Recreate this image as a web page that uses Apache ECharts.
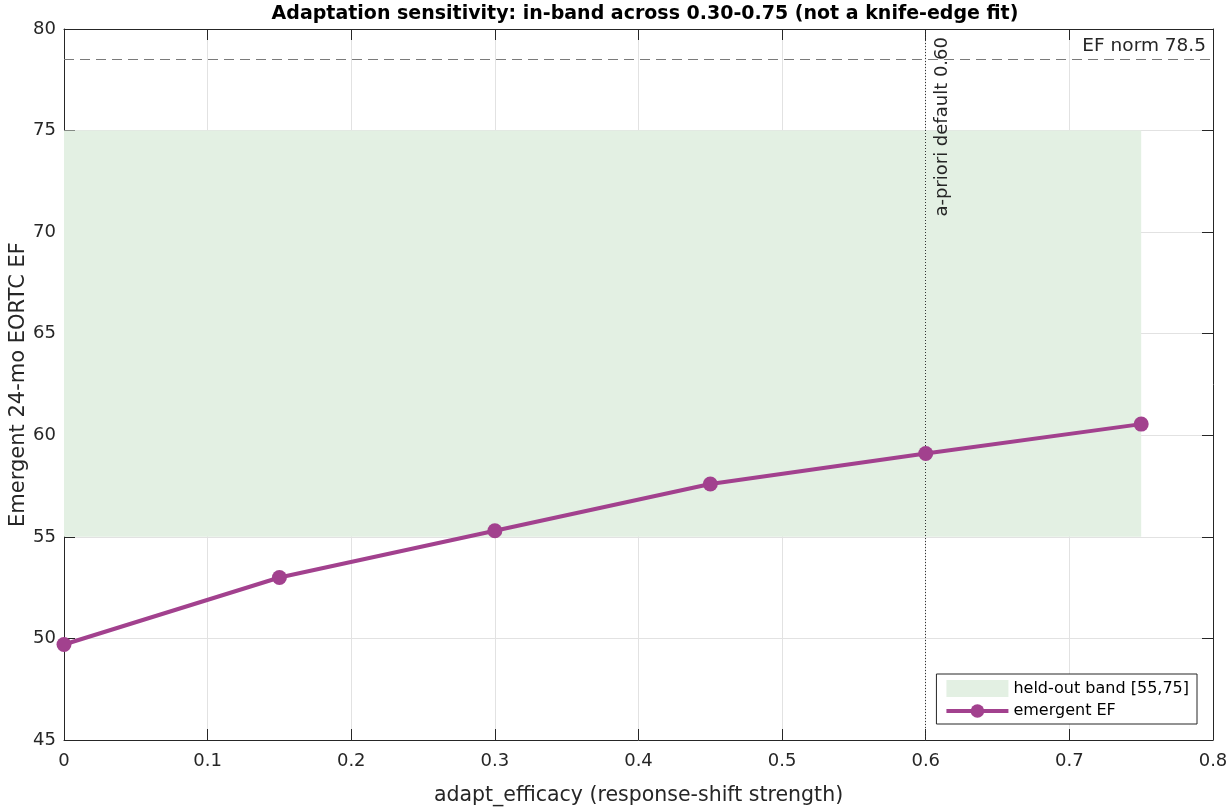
<!DOCTYPE html>
<html>
<head>
<meta charset="utf-8">
<script src="https://cdn.jsdelivr.net/npm/echarts@6/dist/echarts.min.js"></script>
<style>
  html, body { margin: 0; padding: 0; background: #fff; }
  #main { width: 1230px; height: 808px; }
</style>
</head>
<body>
<div id="main"></div>
<script>
// values
const adaptEfficacy = [0, 0.15, 0.3, 0.45, 0.6, 0.75];
const emergentEF = [49.7, 53.0, 55.3, 57.6, 59.1, 60.55];
const bandLow = 55;
const bandHigh = 75;
const bandEnd = 0.75;
const efNorm = 78.5;
const aprioriDefault = 0.6;

const font = '"DejaVu Sans", "Liberation Sans", Arial, sans-serif';
const ink = '#262626';
const purple = '#A2418E';
const bandColor = '#E3F0E3';

const chart = echarts.init(document.getElementById('main'));

const axisCommon = {
    axisLine: { show: true, onZero: false, lineStyle: { color: ink, width: 1 } },
    axisTick: { show: true, inside: true, length: 11, lineStyle: { color: ink } },
    splitLine: { show: false },
};
const gridLines = { splitLine: { show: true, lineStyle: { color: '#E2E2E2' } } };

chart.setOption({
    animation: false,
    backgroundColor: '#fff',
    textStyle: { fontFamily: font },
    title: {
        text: 'Adaptation sensitivity: in-band across 0.30-0.75 (not a knife-edge fit)',
        left: 640, top: 0, textAlign: 'center',
        textStyle: { fontSize: 19, fontWeight: 'bold', color: '#000', fontFamily: font },
    },
    grid: { left: 64, right: 17, top: 29, bottom: 68, outerBoundsMode: 'none' },
    legend: {
        right: 33, bottom: 84, orient: 'vertical',
        itemWidth: 62, itemHeight: 17, itemGap: 6,
        padding: [6, 8, 5, 8],
        borderColor: ink, borderWidth: 1, borderRadius: 0,
        backgroundColor: '#fff',
        textStyle: { fontSize: 16, color: '#000', fontFamily: font },
        data: [
            { name: 'held-out band [55,75]', icon: 'rect', itemStyle: { color: bandColor } },
            { name: 'emergent EF', lineStyle: { width: 4 } },
        ],
    },
    xAxis: [
        Object.assign({
            type: 'value', min: 0, max: 0.8, interval: 0.1,
            name: 'adapt_efficacy (response-shift strength)',
            nameLocation: 'middle', nameGap: 45, nameMoveOverlap: false,
            nameTextStyle: { fontSize: 20.5, color: ink, fontFamily: font },
            axisLabel: { fontSize: 18, color: ink, margin: 12, fontFamily: font,
                formatter: v => (v === 0 ? '0' : String(Math.round(v * 10) / 10)) },
        }, axisCommon, gridLines),
        Object.assign({
            type: 'value', min: 0, max: 0.8, interval: 0.1, position: 'top',
            axisLabel: { show: false },
        }, axisCommon),
    ],
    yAxis: [
        Object.assign({
            type: 'value', min: 45, max: 80, interval: 5,
            name: 'Emergent 24-mo EORTC EF',
            nameLocation: 'middle', nameGap: 35, nameMoveOverlap: false,
            nameTextStyle: { fontSize: 21, color: ink, fontFamily: font },
            axisLabel: { fontSize: 18, color: ink, margin: 8, fontFamily: font },
        }, axisCommon, gridLines),
        Object.assign({
            type: 'value', min: 45, max: 80, interval: 5, position: 'right',
            axisLabel: { show: false },
        }, axisCommon),
    ],
    series: [
        {
            name: 'held-out band [55,75]',
            type: 'line',
            data: [],
            itemStyle: { color: bandColor },
            markArea: {
                silent: true,
                itemStyle: { color: bandColor },
                data: [[{ xAxis: 0, yAxis: bandLow }, { xAxis: bandEnd, yAxis: bandHigh }]],
            },
            markLine: {
                silent: true,
                symbol: 'none',
                data: [
                    {
                        yAxis: efNorm,
                        lineStyle: { color: '#7a7a7a', type: [10, 6], width: 1 },
                        label: { show: true, position: 'insideEndTop', distance: [7, 4],
                            formatter: 'EF norm 78.5', fontSize: 18.5, color: ink, fontFamily: font },
                    },
                    {
                        xAxis: aprioriDefault,
                        lineStyle: { color: '#333', type: [1, 2], width: 1 },
                        label: { show: true, position: 'insideEndBottom', distance: [8, 8],
                            formatter: 'a-priori default 0.60', fontSize: 18, color: ink, fontFamily: font },
                    },
                ],
            },
        },
        {
            name: 'emergent EF',
            type: 'line',
            data: adaptEfficacy.map((x, i) => [x, emergentEF[i]]),
            symbol: 'circle',
            symbolSize: 15,
            lineStyle: { color: purple, width: 4 },
            itemStyle: { color: purple },
            z: 5,
        },
    ],
});
</script>
</body>
</html>
